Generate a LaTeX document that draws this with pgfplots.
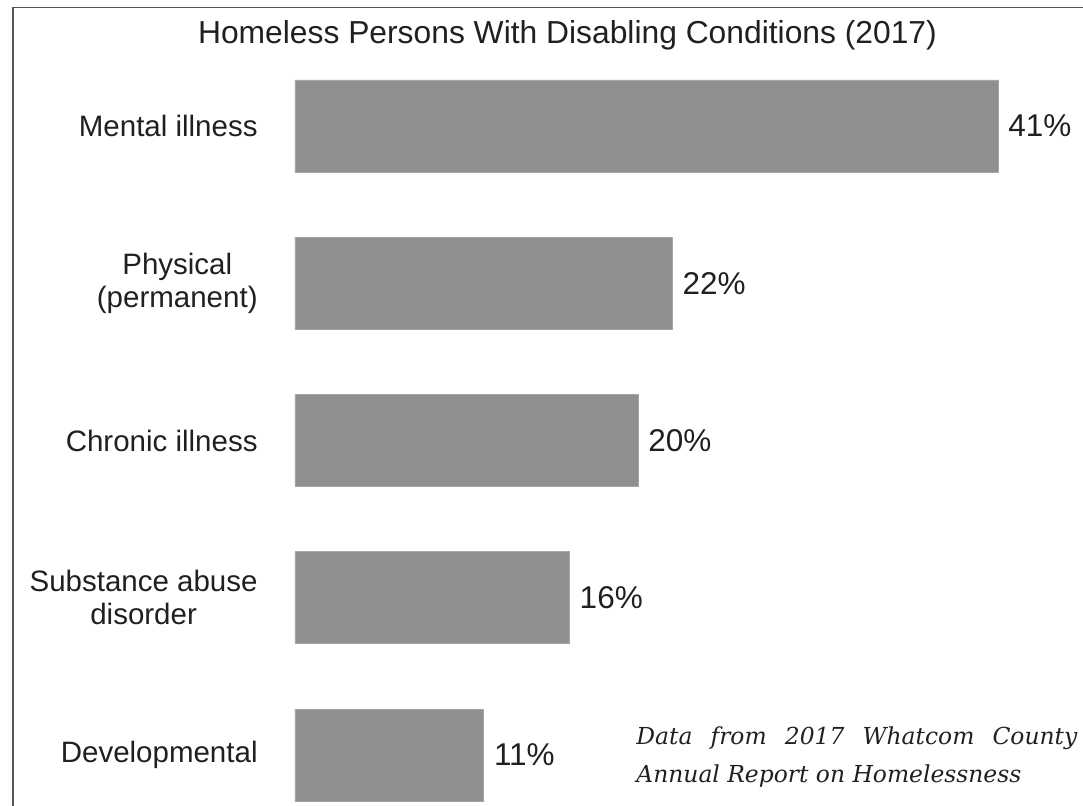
\documentclass[border=0pt]{standalone}
\usepackage{fontspec}
\setmainfont{Liberation Sans}
\newfontfamily\notefont{DejaVu Serif}
\usepackage{pgfplots}
\pgfplotsset{compat=1.18}
\definecolor{barcol}{RGB}{145,143,144}
\definecolor{txt}{RGB}{35,31,32}
\definecolor{frame}{RGB}{85,85,85}
\begin{document}
\begin{tikzpicture}[x=0.5pt,y=-0.5pt]
\useasboundingbox (0,0) rectangle (1083,806);
\draw[frame, line width=0.8pt] (13,820) -- (13,7.5) -- (1090,7.5);
\node[anchor=base, text=txt, font=\fontsize{15.9}{18}\selectfont, inner sep=0pt] at (567.5,44) {Homeless Persons With Disabling Conditions (2017)};
\begin{axis}[
  at={(147.5pt,-403.45pt)}, anchor=south west,
  scale only axis, width=351.5pt, height=379.76pt,
  xmin=0, xmax=41, ymin=-0.33, ymax=4.5,
  hide x axis,
  axis y line=left,
  y axis line style={draw=none},
  major tick length=0pt,
  ytick={0,1,2,3,4},
  yticklabels={Developmental,{Substance abuse\\disorder},Chronic illness,{Physical\\(permanent)},Mental illness},
  yticklabel style={align=center, inner sep=0pt, xshift=-18.5pt, text=txt,
    font=\fontsize{14.75}{16.5}\selectfont},
  /pgf/number format/assume math mode=true,
  clip=false,
]
\addplot[xbar, bar width=46pt, fill=barcol, draw=barcol!80!white, line width=0.4pt,
  point meta=x,
  nodes near coords={\pgfmathprintnumber{\pgfplotspointmeta}\%},
  every node near coord/.append style={anchor=west, inner sep=0pt, xshift=5pt, text=txt,
    font=\fontsize{15.75}{18}\selectfont}]
  coordinates {(41,4) (22,3) (20,2) (16,1) (11,0)};
\end{axis}
\node[anchor=base west, inner sep=0pt, text=txt, font=\notefont\itshape\fontsize{11.7}{19}\selectfont, align=left] at (636,783)
  {\makebox[220.5pt][s]{Data from 2017 Whatcom County}\\Annual Report on Homelessness};
\end{tikzpicture}
\end{document}
